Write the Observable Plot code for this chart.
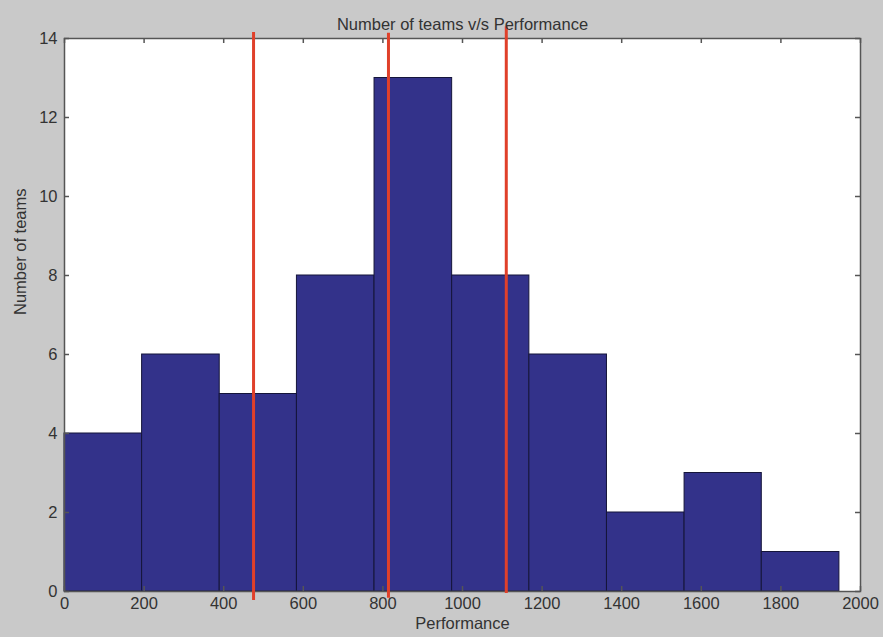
<!DOCTYPE html>
<html>
<head>
<meta charset="utf-8">
<script src="https://cdn.jsdelivr.net/npm/d3@7"></script>
<script src="https://cdn.jsdelivr.net/npm/@observablehq/plot@0.6"></script>
<style>
  html, body { margin: 0; padding: 0; background: #c9c9c9; }
</style>
</head>
<body>
<div id="chart"></div>
<script>
// Histogram bins (Performance) and counts (Number of teams)
const binStart = [0, 195, 390, 584, 779, 974, 1168, 1363, 1558, 1752];
const binEnd   = [195, 390, 584, 779, 974, 1168, 1363, 1558, 1752, 1947];
const counts   = [4, 6, 5, 8, 13, 8, 6, 2, 3, 1];

// Red vertical marker lines (performance value, bottom/top extents in counts)
const markerX   = [475, 814, 1110];
const markerY1  = [-0.23, -0.17, -0.05];
const markerY2  = [14.15, 14.13, 14.3];

const xTicks = [0, 200, 400, 600, 800, 1000, 1200, 1400, 1600, 1800, 2000];
const yTicks = [0, 2, 4, 6, 8, 10, 12, 14];

const bins = binStart.map((s, i) => ({start: s, end: binEnd[i], count: counts[i]}));
const markers = markerX.map((x, i) => ({x, y1: markerY1[i], y2: markerY2[i]}));

const W = 883, H = 637;
const mL = 64, mR = 23, mT = 38, mB = 46;
const plotW = W - mL - mR, plotH = H - mT - mB;
const tickLen = 5;
const axisColor = "#555";
const textColor = "#333";
const fs = 16.5;

const chart = Plot.plot({
  width: W,
  height: H,
  marginLeft: mL,
  marginRight: mR,
  marginTop: mT,
  marginBottom: mB,
  style: {background: "#c9c9c9", fontFamily: "'Liberation Sans', Arial, sans-serif", fontSize: fs + "px", color: textColor},
  x: {domain: [0, 2000], label: null},
  y: {domain: [0, 14], label: null},
  marks: [
    Plot.frame({fill: "white", stroke: null}),
    Plot.rect(bins, {x1: "start", x2: "end", y1: 0, y2: "count", fill: "#33328a", stroke: "#15153a", strokeWidth: 1}),
    // inward ticks bottom & top
    Plot.tickX(xTicks, {x: d => d, stroke: axisColor, strokeWidth: 1.5, insetTop: plotH - tickLen}),
    Plot.tickX(xTicks, {x: d => d, stroke: axisColor, strokeWidth: 1.5, insetBottom: plotH - tickLen}),
    // inward ticks left & right
    Plot.tickY(yTicks, {y: d => d, stroke: axisColor, strokeWidth: 1.5, insetRight: plotW - tickLen}),
    Plot.tickY(yTicks, {y: d => d, stroke: axisColor, strokeWidth: 1.5, insetLeft: plotW - tickLen}),
    Plot.frame({stroke: axisColor, strokeWidth: 1.5}),
    Plot.axisX(xTicks, {tickSize: 0, tickPadding: 6, tickFormat: d3.format("d"), label: null, fontSize: fs, fill: textColor}),
    Plot.axisY(yTicks, {tickSize: 0, tickPadding: 7, tickFormat: d3.format("d"), label: null, fontSize: fs, fill: textColor}),
    Plot.ruleX(markers, {x: "x", y1: "y1", y2: "y2", stroke: "#e0402a", strokeWidth: 3}),
    Plot.text(["Number of teams v/s Performance"], {frameAnchor: "top", dy: -20, fontSize: fs, fill: textColor, text: d => d}),
    Plot.text(["Performance"], {frameAnchor: "bottom", dy: 37, fontSize: fs, fill: textColor, text: d => d}),
    Plot.text(["Number of teams"], {frameAnchor: "left", dx: -44, rotate: -90, fontSize: fs, fill: textColor, text: d => d})
  ]
});
document.getElementById("chart").appendChild(chart);
</script>
</body>
</html>
